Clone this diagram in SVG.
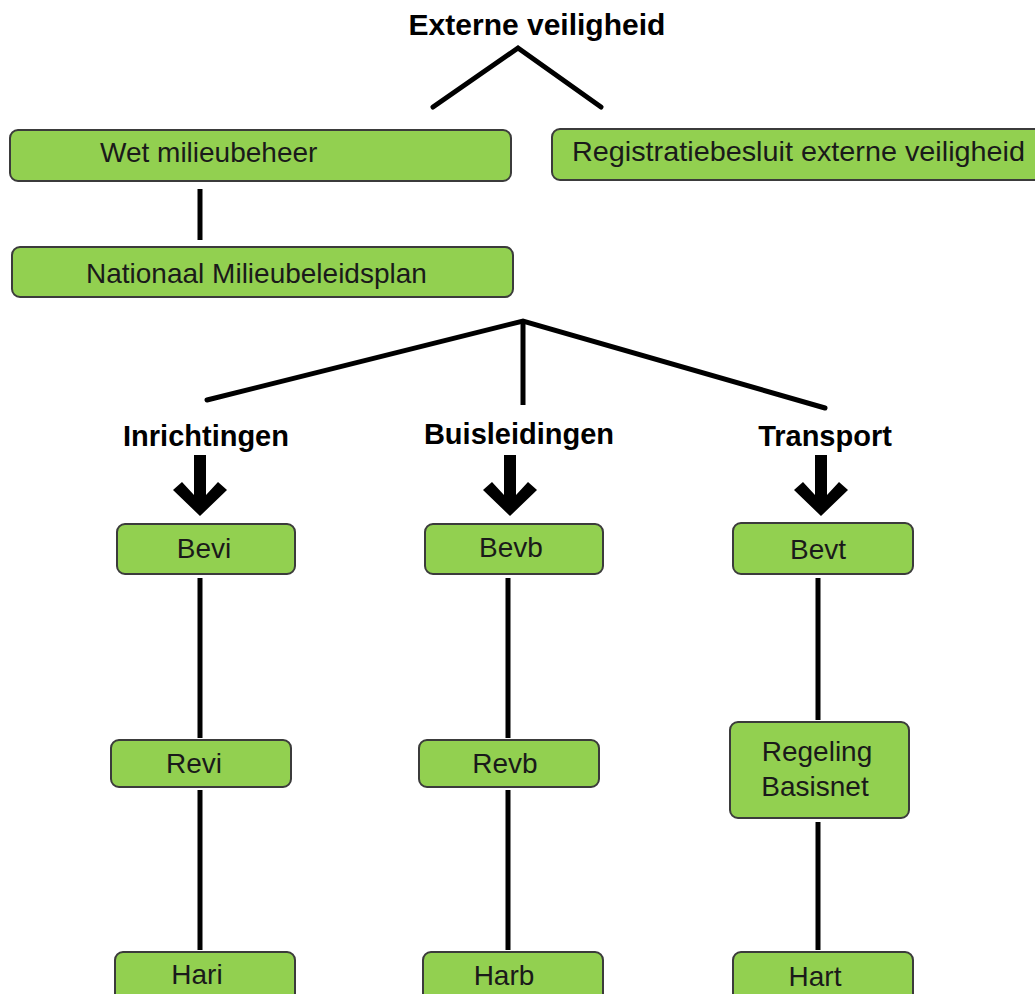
<svg xmlns="http://www.w3.org/2000/svg" width="1035" height="994" viewBox="0 0 1035 994">
<style>
.box{fill:#92D050;stroke:#3b3b3b;stroke-width:2}
.t{font-family:"Liberation Sans",Arial,sans-serif;font-size:28px;fill:#1a1a1a}
.c{text-anchor:middle}
.h{font-family:"Liberation Sans",Arial,sans-serif;font-size:29px;font-weight:bold;fill:#000;text-anchor:middle}
.ln{stroke:#000;stroke-width:5;fill:none;stroke-linecap:round}
.vl{stroke:#000;stroke-width:5;fill:none}
</style>
<defs>
<path id="arr" d="M-6,0 H6 V40 L18,27 L27,35 L0,61 L-27,35 L-18,27 L-6,40 Z" fill="#000"/>
</defs>
<rect width="1035" height="994" fill="#fff"/>
<g id="connectors">
<polyline class="ln" points="433,107 518,48 601,107"/>
<line class="vl" x1="200" y1="189" x2="200" y2="240"/>
<polyline class="ln" points="207,400 523,321 825,408"/>
<line class="vl" x1="523" y1="321" x2="523" y2="405"/>
<use href="#arr" x="200" y="455"/>
<use href="#arr" x="510" y="455"/>
<use href="#arr" x="821" y="455"/>
<line class="vl" x1="200" y1="578" x2="200" y2="738"/>
<line class="vl" x1="200" y1="790" x2="200" y2="950"/>
<line class="vl" x1="508" y1="578" x2="508" y2="738"/>
<line class="vl" x1="508" y1="790" x2="508" y2="950"/>
<line class="vl" x1="818" y1="578" x2="818" y2="720"/>
<line class="vl" x1="818" y1="822" x2="818" y2="950"/>
</g>
<g id="title"><text class="h" x="537" y="35" style="font-size:30px">Externe veiligheid</text></g>
<g id="wet"><rect class="box" x="10" y="130" width="501" height="51" rx="8"/><text class="t" x="100" y="162">Wet milieubeheer</text></g>
<g id="reg"><rect class="box" x="552" y="129" width="495" height="51" rx="8"/><text class="t" x="572" y="161" textLength="453" lengthAdjust="spacingAndGlyphs">Registratiebesluit externe veiligheid</text></g>
<g id="nmp"><rect class="box" x="12" y="247" width="501" height="50" rx="8"/><text class="t" x="86" y="283">Nationaal Milieubeleidsplan</text></g>
<g id="inr"><text class="h" x="206" y="446">Inrichtingen</text></g>
<g id="buis"><text class="h" x="519" y="444">Buisleidingen</text></g>
<g id="trans"><text class="h" x="825" y="446">Transport</text></g>
<g id="bevi"><rect class="box" x="117" y="524" width="178" height="50" rx="8"/><text class="t c" x="204" y="558">Bevi</text></g>
<g id="bevb"><rect class="box" x="425" y="524" width="178" height="50" rx="8"/><text class="t c" x="511" y="557">Bevb</text></g>
<g id="bevt"><rect class="box" x="733" y="523" width="180" height="51" rx="8"/><text class="t c" x="818" y="559">Bevt</text></g>
<g id="revi"><rect class="box" x="111" y="740" width="180" height="47" rx="8"/><text class="t c" x="194" y="773">Revi</text></g>
<g id="revb"><rect class="box" x="419" y="740" width="180" height="47" rx="8"/><text class="t c" x="505" y="773">Revb</text></g>
<g id="rbn"><rect class="box" x="730" y="722" width="179" height="96" rx="8"/><text class="t c" x="817" y="761">Regeling</text><text class="t c" x="815" y="796">Basisnet</text></g>
<g id="hari"><rect class="box" x="115" y="952" width="180" height="60" rx="8"/><text class="t c" x="197" y="984">Hari</text></g>
<g id="harb"><rect class="box" x="423" y="952" width="180" height="60" rx="8"/><text class="t c" x="504" y="985">Harb</text></g>
<g id="hart"><rect class="box" x="733" y="952" width="180" height="60" rx="8"/><text class="t c" x="815" y="986">Hart</text></g>
</svg>
